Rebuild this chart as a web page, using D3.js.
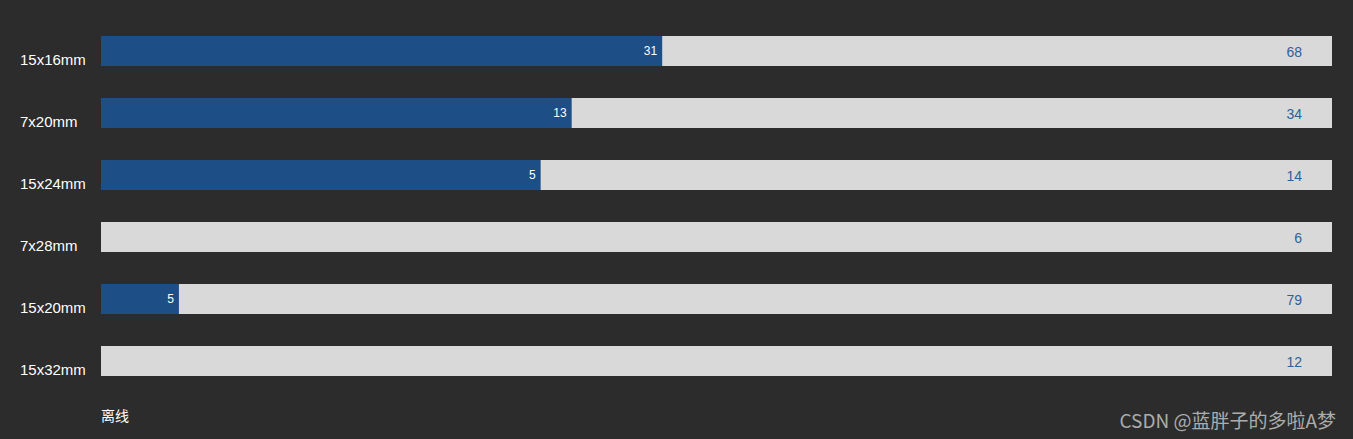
<!DOCTYPE html>
<html><head><meta charset="utf-8">
<script src="https://cdn.jsdelivr.net/npm/d3@7"></script>
<style>html,body{margin:0;padding:0;background:#2b2c2b;}svg{display:block;}</style>
</head><body>
<svg id="c" width="1353" height="439"></svg>
<script>
const categories = ["15x16mm","7x20mm","15x24mm","7x28mm","15x20mm","15x32mm"];
const offlineValues = [31,13,5,0,5,0];
const totalValues = [68,34,14,6,79,12];
const legendLabel = "离线";
const watermark = "CSDN @蓝胖子的多啦A梦";

const svg = d3.select("#c");
const W = 1353, H = 439;
svg.append("rect").attr("width",W).attr("height",H).attr("fill","#2b2c2b");

const x = d3.scaleLinear().domain([0,1]).range([101,1332]);
const y = d3.scaleBand().domain(categories).range([20,392]).paddingInner(32/62).paddingOuter(16/62);

const rows = svg.selectAll("g.row").data(categories).join("g").attr("class","row");
rows.append("rect").attr("x",x(0)).attr("y",d=>y(d)).attr("width",x(1)-x(0)).attr("height",y.bandwidth()).attr("fill","#d9d9d9");
rows.append("rect").attr("x",x(0)).attr("y",d=>y(d))
  .attr("width",(d,i)=>x(offlineValues[i]/totalValues[i])-x(0)).attr("height",y.bandwidth()).attr("fill","#1d4e85");
rows.filter((d,i)=>offlineValues[i]>0).append("text")
  .attr("x",d=>x(offlineValues[categories.indexOf(d)]/totalValues[categories.indexOf(d)])-5)
  .attr("y",d=>y(d)+y.bandwidth()/2).attr("dy","0.35em").attr("text-anchor","end")
  .attr("font-family","Liberation Sans, Arial, sans-serif").attr("font-size",12).attr("fill","#fff")
  .text(d=>offlineValues[categories.indexOf(d)]);
rows.append("text").attr("x",1302).attr("y",d=>y(d)+y.bandwidth()/2+1).attr("dy","0.35em").attr("text-anchor","end")
  .attr("font-family","Liberation Sans, Arial, sans-serif").attr("font-size",14).attr("fill","#2f6196")
  .text((d,i)=>totalValues[i]);
rows.append("text").attr("x",20).attr("y",d=>y(d)+y.bandwidth()-1).attr("text-anchor","start")
  .attr("font-family","Liberation Sans, Arial, sans-serif").attr("font-size",15).attr("fill","#fff")
  .text(d=>d);

svg.append("text").attr("x",101).attr("y",421).attr("font-family","Noto Sans CJK SC, sans-serif")
  .attr("font-size",14).attr("fill","#fff").text(legendLabel);
svg.append("text").attr("x",1336).attr("y",428).attr("text-anchor","end").attr("font-family","Noto Sans CJK SC, sans-serif")
  .attr("font-size",19).attr("fill","#acacac").text(watermark);
</script>
</body></html>
